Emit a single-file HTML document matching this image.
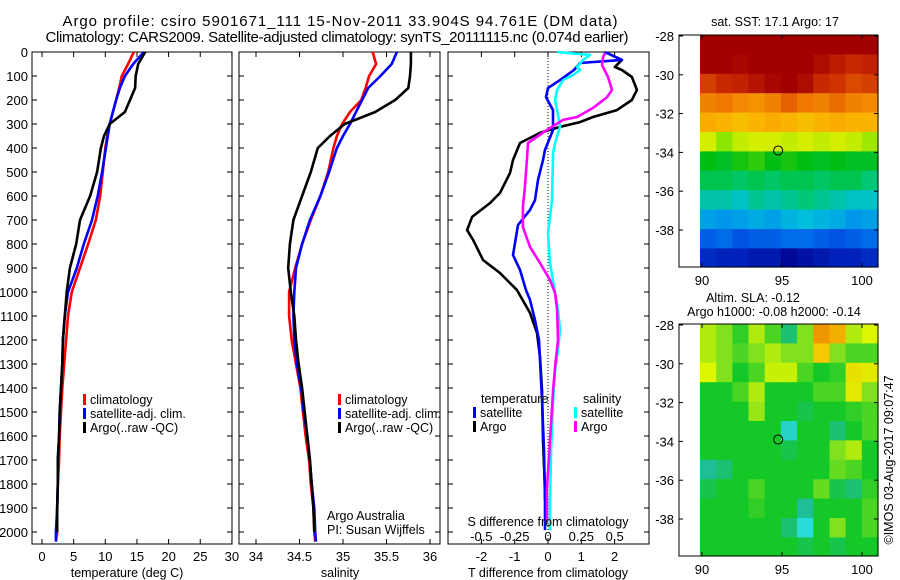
<!DOCTYPE html>
<html><head><meta charset="utf-8"><style>
html,body{margin:0;padding:0;background:#fff;}
svg{display:block;font-family:"Liberation Sans",sans-serif;}
</style></head><body>
<svg id="fig" width="900" height="580" viewBox="0 0 900 580" xmlns="http://www.w3.org/2000/svg">
<g id="g"></g>
</svg>
<script>
// ---------- data ----------
const depths=[0,50,100,150,200,250,300,350,400,500,600,700,800,900,1000,1100,1200,1300,1400,1500,1600,1700,1800,1900,2000,2040];
const tempClim=[14.5,13.6,12.6,12.2,11.7,11.2,10.7,10.3,10.0,9.6,9.2,8.5,7.3,6.0,4.7,4.1,3.8,3.5,3.2,3.0,2.8,2.7,2.5,2.4,2.4,2.2];
const tempSat=[16.1,14.4,13.1,12.3,11.7,11.2,10.7,10.4,10.1,9.5,8.8,7.9,6.6,5.5,4.1,3.6,3.3,3.2,3.0,2.8,2.7,2.5,2.5,2.4,2.2,2.2];
const tempArgo=[16.3,15.2,14.8,14.7,13.9,13.1,10.7,9.8,9.3,8.7,7.6,6.0,5.4,4.4,3.9,3.6,3.3,3.2,3.0,2.8,2.7,2.5,2.5,2.4,2.4];
const salClim=[35.34,35.38,35.30,35.26,35.21,35.08,34.99,34.93,34.89,34.83,34.74,34.63,34.53,34.45,34.38,34.38,34.41,34.46,34.51,34.54,34.57,34.61,34.63,34.66,34.67,34.68];
const salSat=[35.62,35.56,35.43,35.29,35.22,35.15,35.08,35.00,34.93,34.84,34.74,34.62,34.53,34.46,34.44,34.43,34.44,34.47,34.52,34.55,34.59,34.62,34.64,34.67,34.68,34.69];
const salArgo=[35.78,35.78,35.77,35.75,35.60,35.37,35.02,34.85,34.71,34.63,34.53,34.43,34.39,34.37,34.40,34.44,34.46,34.49,34.53,34.56,34.59,34.62,34.64,34.66,34.67];
const dArgoT=[4,33,62,75,104,158,200,242,271,292,312,337,379,450,504,587,629,687,742,783,867,921,992,1087,1171,1271,1408,1617,1825,1867];
const diffTArgo=[1.77,2.22,2.01,2.22,2.52,2.67,2.52,2.07,1.35,0.96,0.36,-0.24,-0.84,-1.05,-1.14,-1.44,-1.74,-2.28,-2.43,-2.25,-1.95,-1.44,-0.93,-0.54,-0.33,-0.24,-0.18,-0.15,-0.09,-0.09];
const dSatT=[0,33,46,75,117,150,188,242,325,408,450,533,617,658,721,846,908,992,1033,1117,1200,1450,1658,1867,1992];
const diffTSat=[1.71,2.22,0.96,0.78,0.36,0,-0.06,0.15,0.15,-0.09,-0.15,-0.30,-0.39,-0.54,-0.90,-1.05,-0.84,-0.66,-0.54,-0.39,-0.27,-0.18,-0.12,-0.09,-0.09];
const dSatS=[0,12,33,62,75,96,117,158,200,262,312,337,379,421,617,754,879,1004,1075,1158,1242,1325,1450,1658,1867,1992];
const diffSSat=[0.068,0.315,0.263,0.218,0.240,0.188,0.113,0.068,0.053,0.075,0.090,0.075,0.053,0.038,0.030,0,0.015,0.053,0.075,0.090,0.075,0.053,0.038,0.023,0.015,0.015];
const dArgoS=[4,21,54,104,158,188,233,271,283,325,379,450,562,646,729,812,879,950,1004,1075,1200,1312,1408,1617,1825,1962];
const diffSArgo=[0.428,0.413,0.405,0.450,0.480,0.443,0.338,0.218,0.113,-0.008,-0.150,-0.158,-0.173,-0.188,-0.188,-0.135,-0.060,0.015,0.053,0.068,0.075,0.053,0.038,0.015,-0.008,-0.008];
const depthTicks=[0,100,200,300,400,500,600,700,800,900,1000,1100,1200,1300,1400,1500,1600,1700,1800,1900,2000];
const tempTicks=[0,5,10,15,20,25,30];
const salTicks=[34,34.5,35,35.5,36];
const salTickLabels=["34","34.5","35","35.5","36"];
const diffTTicks=[-2,-1,0,1,2];
const diffSTicks=[-0.5,-0.25,0,0.25,0.5];
const diffSTickLabels=["-0.5","-0.25","0","0.25","0.5"];
const latTicks=[-28,-30,-32,-34,-36,-38];
const lonTicks=[90,95,100];
const sstGrid=[
[20,20,20,20,20,20,20,20,20,20,20],
[20,20,19.9,20,20,20,20,19.8,19.6,19.4,19.5],
[19.2,19.4,19.5,19.7,19.9,20,19.8,19.4,19.3,19.1,19.2],
[18.6,18.7,18.5,18.4,18.6,18.9,18.7,18.6,18.8,18.6,18.5],
[18.1,18.0,17.9,18.0,18.1,18.0,17.9,18.0,18.1,18.0,18.0],
[17.3,16.9,17.2,17.3,17.3,17.2,17.3,17.2,17.3,17.2,17.0],
[16.3,16.2,16.4,16.5,16.3,16.4,16.3,16.2,16.3,16.2,16.2],
[16.0,16.0,15.9,16.0,15.9,16.0,16.0,15.9,16.0,16.0,15.8],
[15.6,15.6,15.5,15.7,15.6,15.7,15.8,15.7,15.6,15.5,15.5],
[15.1,15.0,15.1,15.2,15.1,15.3,15.4,15.3,15.2,15.0,15.1],
[14.5,14.6,14.4,14.5,14.5,14.6,14.6,14.5,14.4,14.5,14.6],
[14.0,13.9,13.9,13.8,13.8,13.6,13.7,13.8,13.9,13.9,14.0]];
const slaGrid=[
[0.3,0.2,0.05,0.3,0.1,-0.1,0.2,0.8,0.7,0.3,0.4],
[0.3,0.2,0.1,0.2,0.3,0.2,0.2,0.6,0.2,0.1,0.1],
[0.4,0.2,0,0.1,0.35,0.35,0.1,0,0.05,0.5,0.45],
[0,0,0.1,0.3,0,0,0,0.1,0.1,0.45,0.2],
[0,0,0,0.25,0,0,-0.05,0,0,0.05,0.1],
[0,0,0,0,0,-0.25,0,0,-0.1,0,0.1],
[0,0,0,0,0,-0.05,0,0,0.2,0.3,0],
[-0.15,-0.1,0,0,0,0,0,0,0.15,0.1,0],
[-0.05,0,0,0.1,0,0,0,0.15,-0.05,-0.1,0.05],
[0,0,0,0.05,0,0,-0.15,0,0,0,0.1],
[0,0,0,0,0,-0.1,-0.3,0,0.2,0,0.1],
[0,0,0,0,0,0,-0.05,0,-0.05,0,0]];
const argoLon=94.761, argoLat=-33.904;

// ---------- helpers ----------
const NS="http://www.w3.org/2000/svg";
const root=document.getElementById('g');
function el(tag,attrs,parent){const e=document.createElementNS(NS,tag);for(const k in attrs)e.setAttribute(k,attrs[k]);(parent||root).appendChild(e);return e;}
function txt(x,y,s,size,anchor,parent){const t=el('text',{x:x,y:y,'font-size':size,'text-anchor':anchor||'middle',fill:'#000'},parent);t.textContent=s;return t;}
const yD=d=>52+0.24*d;
const xT=v=>42+6.33*v;
const xS=v=>256+87*(v-34);
const xDT=v=>548+33.3*v;
const xDS=v=>548+133.3*v;
function line(ds,vs,xf,color,name){
  const pts=[];for(let i=0;i<vs.length;i++)pts.push(xf(vs[i]).toFixed(1)+','+yD(ds[i]).toFixed(1));
  const p=el('polyline',{points:pts.join(' '),fill:'none',stroke:color,'stroke-width':2.6,'stroke-linejoin':'round'});
  
  
}
function frame(x0,x1,name){
  const r=el('rect',{x:x0,y:52,width:x1-x0,height:492,fill:'none',stroke:'#000','stroke-width':1});
  
  
  depthTicks.forEach(d=>{el('line',{x1:x0,x2:x0+5,y1:yD(d),y2:yD(d),stroke:'#000'});el('line',{x1:x1,x2:x1-5,y1:yD(d),y2:yD(d),stroke:'#000'});});
}
function xticks(vals,labels,xf,name){
  const g=el('g',{});
  vals.forEach((v,i)=>{const x=xf(v);el('line',{x1:x,x2:x,y1:544,y2:539,stroke:'#000'},g);el('line',{x1:x,x2:x,y1:52,y2:57,stroke:'#000'},g);txt(x,561,labels[i],13,'middle',g);});
}
function legendEntry(x,y,color,label,name){
  const g=el('g',{});
  el('rect',{x:x,y:y-10,width:3,height:11,fill:color},g);
  txt(x+7,y,label,12.5,'start',g);
}

// ---------- titles ----------
let t=txt(340,26,'Argo profile: csiro 5901671_111 15-Nov-2011 33.904S 94.761E (DM data)',15);
t.setAttribute('textLength','555');


t=txt(337,42,'Climatology: CARS2009. Satellite-adjusted climatology: synTS_20111115.nc (0.074d earlier)',15);
t.setAttribute('textLength','583');



// ---------- panel 1 temperature ----------
frame(32,232,'temperature-axes');
const yl=el('g',{});
depthTicks.forEach(d=>txt(28,yD(d)+5,String(d),13,'end',yl));
xticks(tempTicks,tempTicks.map(String),xT,'temperature-x-ticks');
t=txt(127,577,'temperature (deg C)',12.5);
line(depths,tempClim,xT,'#f00','temp-climatology-line');
line(depths,tempSat,xT,'#00f','temp-satellite-line');
line(depths,tempArgo,xT,'#000','temp-argo-line');
legendEntry(83,404,'#f00','climatology','legend-climatology');
legendEntry(83,418,'#00f','satellite-adj. clim.','legend-satellite');
legendEntry(83,432,'#000','Argo(..raw -QC)','legend-argo');

// ---------- panel 2 salinity ----------
frame(239,440,'salinity-axes');
xticks(salTicks,salTickLabels,xS,'salinity-x-ticks');
t=txt(340,577,'salinity',12.5);
line(depths,salClim,xS,'#f00','sal-climatology-line');
line(depths,salSat,xS,'#00f','sal-satellite-line');
line(depths,salArgo,xS,'#000','sal-argo-line');
legendEntry(338,404,'#f00','climatology','legend-climatology-2');
legendEntry(338,418,'#00f','satellite-adj. clim.','legend-satellite-2');
legendEntry(338,432,'#000','Argo(..raw -QC)','legend-argo-2');
t=txt(327,520,'Argo Australia',12.5,'start');
t=txt(327,534,'PI: Susan Wijffels',12.5,'start');

// ---------- panel 3 differences ----------
frame(448,649,'difference-axes');
xticks(diffTTicks,diffTTicks.map(String),xDT,'t-diff-x-ticks');
el('line',{x1:548,x2:548,y1:52,y2:544,stroke:'#000','stroke-dasharray':'1,2'});
line(dArgoT,diffTArgo,xDT,'#000','t-diff-argo-line');
line(dSatT,diffTSat,xDT,'#00f','t-diff-satellite-line');
line(dSatS,diffSSat,xDS,'#0ff','s-diff-satellite-line');
line(dArgoS,diffSArgo,xDS,'#f0f','s-diff-argo-line');
const sl=el('g',{});
diffSTicks.forEach((v,i)=>txt(xDS(v),541,diffSTickLabels[i],13,'middle',sl));
t=txt(548,526,'S difference from climatology',12.5);
t=txt(548,577,'T difference from climatology',12.5);
t=txt(481,403,'temperature',12.5,'start');
t=txt(583,403,'salinity',12.5,'start');
legendEntry(473,417,'#00f','satellite','legend-t-satellite');
legendEntry(473,431,'#000','Argo','legend-t-argo');
legendEntry(574,417,'#0ff','satellite','legend-s-satellite');
legendEntry(574,431,'#f0f','Argo','legend-s-argo');

// ---------- maps ----------
function lerpC(stops,v){
  if(v<=stops[0][0])return stops[0][1];
  for(let i=1;i<stops.length;i++){if(v<=stops[i][0]){const a=stops[i-1],b=stops[i],f=(v-a[0])/(b[0]-a[0]);
    return [0,1,2].map(k=>Math.round(a[1][k]+(b[1][k]-a[1][k])*f));}}
  return stops[stops.length-1][1];
}
function fix(c){return 'rgb('+c.join(',')+')';}
const sstStops=[[13.5,[0,0,140]],[14.2,[0,60,220]],[14.8,[0,130,240]],[15.4,[0,190,220]],[15.8,[0,200,120]],[16.3,[0,190,20]],[16.9,[140,230,0]],[17.4,[230,240,0]],[18.0,[250,180,0]],[18.7,[240,120,0]],[19.4,[200,40,0]],[20,[160,0,0]]];
const slaStops=[[-0.3,[40,220,220]],[-0.15,[30,190,150]],[0,[20,200,40]],[0.2,[130,225,30]],[0.4,[220,245,0]],[0.6,[245,200,0]],[0.8,[240,150,0]]];
function map(y0,grid,stops,name,circleColor){
  const x0=679,x1=878,y1=y0+232;
  const lonX=l=>782+16*(l-95), latY=a=>y0+1+19.4*(-28-a);
  const g=el('g',{});
  const nr=grid.length,nc=grid[0].length;
  for(let r=0;r<nr;r++)for(let c=0;c<nc;c++){
    const xa=lonX(89.875+c*(101-89.875)/nc), xb=lonX(89.875+(c+1)*(101-89.875)/nc);
    const ya=Math.max(y0,latY(-28+0.05-r*1)), yb=Math.min(y1,latY(-28+0.05-(r+1)*1));
    const cell=el('rect',{x:xa.toFixed(1),y:ya.toFixed(1),width:(xb-xa+0.6).toFixed(1),height:(yb-ya+0.6).toFixed(1),fill:fix(lerpC(stops,grid[r][c]))},g);
    
    
  }
  el('rect',{x:x0,y:y0,width:x1-x0,height:y1-y0,fill:'none',stroke:'#000'},g);
  latTicks.forEach(a=>{const y=latY(a);el('line',{x1:x0,x2:x0+4,y1:y,y2:y,stroke:'#000'},g);el('line',{x1:x1,x2:x1-4,y1:y,y2:y,stroke:'#000'},g);txt(x0-5,y+5,String(a),13,'end',g);});
  lonTicks.forEach(l=>{const x=lonX(l);el('line',{x1:x,x2:x,y1:y1,y2:y1-4,stroke:'#000'},g);el('line',{x1:x,x2:x,y1:y0,y2:y0+4,stroke:'#000'},g);txt(x,y1+18,String(l),13,'middle',g);});
  const c=el('circle',{cx:lonX(argoLon),cy:latY(argoLat),r:4.5,fill:'none',stroke:circleColor,'stroke-width':1},g);
  
  
}
map(35,sstGrid,sstStops,'sst-map','#000');
map(324,slaGrid,slaStops,'sla-map','#000');
t=txt(775,26,'sat. SST: 17.1 Argo: 17',12.5);
t=txt(753,302,'Altim. SLA: -0.12',12.5);
t=txt(774,316,'Argo h1000: -0.08 h2000: -0.14',12.5);
t=txt(0,0,'©IMOS 03-Aug-2017 09:07:47',12.5,'middle');
t.setAttribute('transform','translate(893,460) rotate(-90)');


</script>
</body></html>
